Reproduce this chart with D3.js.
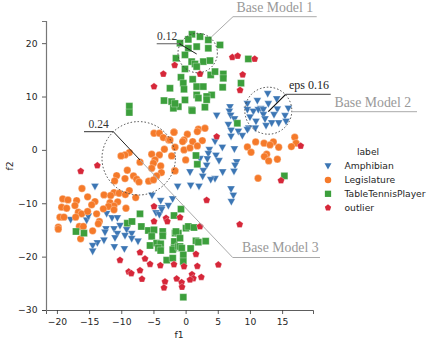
<!DOCTYPE html>
<html>
<head>
<meta charset="utf-8">
<script src="https://cdn.jsdelivr.net/npm/d3@7"></script>
<style>
  html, body { margin: 0; padding: 0; background: #fff; }
  svg { display: block; }
  text { font-family: "DejaVu Sans", sans-serif; fill: #262626; }
  .note { font-family: "Liberation Serif", serif; }
</style>
</head>
<body>
<script>
// values: [f1, f2]
var labels = ["Amphibian", "Legislature", "TableTennisPlayer", "outlier"];
var colors = ["#3c76b4", "#f57a2a", "#3c9f3c", "#d62739"];
var xTicks = [-20, -15, -10, -5, 0, 5, 10, 15];
var yTicks = [-30, -20, -10, 0, 10, 20];

var amphibian = [[12.76,10.49],[11.15,9.18],[14.16,9.49],[9.6,8.6],[12.86,8.6],[6.9,8],[11.67,7.7],[9.6,7.5],[15.97,7.74],
  [6.8,7.18],[7,6.43],[4.83,6.43],[10.53,7.18],[11.3,7.5],[12.09,7.5],[14.26,7.61],[12.09,6.55],[10,6.1],[13.74,6.55],
  [15.45,6.36],[7.6,5.74],[10.94,5.3],[12.34,5.74],[6.64,4.68],[13.38,4.99],[14.47,4.99],[15.61,5.3],[12.5,4.49],[10.84,4.05],
  [9.8,4.05],[9.6,3.74],[7.06,3.62],[8.2,3.43],[7.06,2.49],[8.82,2.62],[4.57,1.56],[5.71,0.43],[3.69,0],[7.58,0.12],[3.53,-0.75],
  [3.38,-1.75],[4.72,-1.06],[5.19,-2.06],[7.94,-2.31],[7.68,-2.94],[3.27,-2.94],[2.24,-1.7],[0.68,-4.19],[2.75,-3.94],[2.65,-5],
  [5.76,-4.19],[7.52,-4.06],[4.57,-5.43],[3.9,-5.62],[-1.24,-6.87],[0.78,-6.68],[2.08,-6.87],[7.06,-7.37],[7.42,-8.55],[7.11,-9.74],
  [-2.02,-9.24],[-14.09,-6.87],[-5.22,-8.55],[-3.87,-9.55],[-2.68,-10.49],[-3.72,-10.93],[-17.87,-13.1],[-15.38,-13.23],[-15.12,-12.48],
  [-12.27,-11.98],[-11.44,-12.79],[-10.61,-12.79],[-4.6,-11.86],[-4.08,-12.17],[-3.72,-11.23],[-10.2,-14.23],[-12.38,-14.85],[-11.13,-14.85],
  [-9.16,-14.98],[-12.53,-15.48],[-10.61,-15.73],[-8.38,-15.73],[-9.42,-16.1],[-10.98,-16.54],[-8.38,-16.66],[-12.69,-16.97],[-7.4,-17.16],
  [-13.72,-17.47],[-14.45,-17.97],[-11.08,-18.22],[-14.45,-19.04],[-9.52,-18.6]];

var legislature = [[-4.91,3.12],[-4.08,3.12],[-3.46,2.31],[-2.63,1.87],[-1.8,3.31],[-3.3,0.12],[-5.27,-0.81],[-4.08,-0.94],[-8.75,-0.5],
  [-9.42,-0.94],[-10.04,-1.13],[-4.76,-1.87],[-5.01,-2.5],[-7.09,-2.31],[-3.87,-3],[-5.27,-3.44],[-9.06,-3.81],[-3.77,-4.25],[-1.7,-3.87],
  [-4.5,-4.87],[-8.1,-4.87],[-10.72,-4.81],[-9.42,-5.37],[-11.03,-5.81],[-7.61,-5.5],[-7.24,-6],[-5.74,-5.87],[-5,-5.62],[-16.11,-7.24],
  [-11.13,-7.99],[-10.35,-8.12],[-8.75,-7.62],[-9.37,-8.37],[-12.69,-8.43],[-11.65,-8.55],[-15.23,-8.8],[-7.76,-8.93],[-19.1,-9.18],
  [-18.29,-9.37],[-16.94,-9.49],[-14.09,-9.68],[-11.75,-9.87],[-10.56,-9.74],[-14.6,-10.3],[-17.2,-10.43],[-19.27,-10.74],[-18.49,-10.93],
  [-11.13,-10.49],[-9.27,-10.93],[-12,-10.6],[-12.79,-11.05],[-11.13,-11.23],[-16.68,-11.67],[-16.16,-11.98],[-15.23,-11.54],[-13.83,-11.98],
  [-17.09,-12.6],[-19.53,-12.6],[-18.91,-12.6],[-13.41,-13.42],[-13.57,-13.85],[-19.79,-14.48],[-19.79,-14.85],[-16.52,-14.35],[-15.9,-14.35],
  [-14.45,-15.17],[-16.32,-16.66],[-1.81,3.3],[0.27,2.93],[1.98,3.87],[1.82,3.43],[3.01,4.05],[-0.25,1.87],[-0.46,1.56],[1.1,1.56],[2.6,1.74],
  [-2.43,1.87],[-1.65,0.5],[-0.25,0],[0.68,0.37],[1.82,0.75],[-2.17,-1.13],[0.01,-1.88],[-1.65,-3.94],[10.89,1.5],[12.19,1.25],[13.64,1.5],
  [13.12,0.93],[9.6,0.56],[10.17,-0.44],[14.47,0.5],[16.96,2.37],[17.17,1.25],[16.44,0.62],[12.6,-0.81],[12.24,-1.25],[12.91,-2.06],
  [14.26,-1.75],[11.26,-5.31]];

var tableTennis = [[0.99,21.66],[2.24,21.22],[3.53,20.6],[0.42,20.7],[-0.87,20],[5.35,19.66],[3.53,19.04],[1.72,19.35],[0.42,19.04],[-0.1,17.8],
  [-1.5,17.17],[0.94,16.54],[1.46,16.1],[2.75,16.54],[3.79,16.73],[-0.1,15.17],[1.72,15.6],[3.9,14.05],[4.57,14.67],[5.86,14.23],[5.86,13.42],
  [-0.72,13.6],[-0.36,12.5],[-0.25,11.36],[1.1,13.23],[1.72,11.86],[1.72,10.3],[2.75,11.86],[4.05,10.3],[3.27,10],[1.98,9.7],[5.76,11.73],
  [8.61,12.5],[9.75,17.04],[-2.43,11.55],[-2.17,9.05],[-0.1,9.36],[-1.13,8.1],[-1.9,7.8],[0.94,7.5],[3,8],[-3.36,9.24],[-8.75,8.2],[-8.75,7],
  [-1.65,8.7],[1.04,7.36],[3.27,9.4],[8.04,4.99],[1.61,-1.06],[1.82,-2.69],[15.35,-4.87],[-17.04,-15.29],[-15.8,-15.6],[-7.09,-11.98],
  [-9.06,-13.73],[-8.33,-13.42],[-6.88,-14.35],[-5.79,-15.1],[-4.91,-14.98],[-3.56,-15.29],[-5.27,-16.2],[-3.56,-16.1],[-5.53,-17.91],
  [-4.5,-17.47],[-3.88,-17.6],[-4.24,-18.4],[-3.88,-18.85],[-1.8,-12.3],[-1.64,-15.6],[-1.13,-15.6],[-1.75,-17.16],[-1.8,-18.4],[-2,-18.7],
  [-1.13,-18.1],[-2.94,-20.66],[-2,-20.28],[-0.72,-11.1],[0.06,-14.67],[0.42,-14.35],[1.3,-14.54],[-1.5,-15.3],[-0.87,-16.54],[-0.87,-18.1],
  [-0.6,-18.4],[-0.36,-19.66],[0.78,-18.47],[1.61,-17.04],[1.98,-17.29],[3.12,-17.1],[-0.36,-20.9],[-0.36,-27.6]];

var outlier = [[-1.7,15.86],[-3.46,14.23],[-4.91,11.86],[2.24,14.23],[7.26,17.35],[8.09,17.6],[10.74,17.04],[8.87,14.1],[8.46,11.17],
  [-16.3,-4],[-13.72,-2.94],[-4.91,-10.6],[4.83,2.49],[17.89,0.75],[14.83,-5.75],[3.27,-9.43],[-0.87,-12.67],[2.24,-14.35],[8.4,-13.98],
  [1.61,-19.53],[-1.81,-21.47],[-0.25,-21.84],[1.82,-21.78],[5.09,-21.53],[-1.39,-24.15],[-0.62,-24.84],[-0.56,-25.7],[0.99,-23.34],
  [1.2,-24.09],[0.68,-24.34],[2.44,-23.84],[-3.04,-12.8],[-2.84,-13.42],[-4.91,-13.42],[-7.09,-19.22],[-6.31,-20.41],[-5.53,-21.41],
  [-3.93,-21.66],[-10.2,-20.66],[-8.85,-22.84],[-8.44,-23.15],[-7.09,-22.59],[-6.78,-24.2],[-3.2,-24.7],[-3.36,-25.84]];

var series = [amphibian, legislature, tableTennis, outlier];

var width = 436, height = 346;
var x = d3.scaleLinear().domain([-21.7, 19.8]).range([46, 313]);
var y = d3.scaleLinear().domain([-30, 24.15]).range([310, 21]);

// marker shapes, same order as labels
var triangleDown = { draw: function(ctx, size) {
  var r = Math.sqrt(size) * 0.62;
  ctx.moveTo(-r, -r * 0.8); ctx.lineTo(r, -r * 0.8); ctx.lineTo(0, r); ctx.closePath();
}};
var pentagon = { draw: function(ctx, size) {
  var r = Math.sqrt(size) * 0.62;
  for (var i = 0; i < 5; i++) {
    var a = -Math.PI / 2 + i * 2 * Math.PI / 5;
    if (i == 0) ctx.moveTo(r * Math.cos(a), r * Math.sin(a));
    else ctx.lineTo(r * Math.cos(a), r * Math.sin(a));
  }
  ctx.closePath();
}};
var shapes = [triangleDown, d3.symbolCircle, d3.symbolSquare, pentagon];
var sizes = [40, 42, 49, 36];

var svg = d3.select("body").append("svg").attr("width", width).attr("height", height);

var xAxis = svg.append("g").attr("transform", "translate(0,310)")
    .call(d3.axisBottom(x).tickValues(xTicks).tickSizeOuter(0).tickSize(4).tickPadding(4).tickFormat(d => String(d).replace("-", "\u2212")));
var yAxis = svg.append("g").attr("transform", "translate(46,0)")
    .call(d3.axisLeft(y).tickValues(yTicks).tickSizeOuter(0).tickSize(4).tickPadding(4.5).tickFormat(d => String(d).replace("-", "\u2212")));
svg.selectAll(".tick text").style("font-size", "9.2px").style("font-family", '"DejaVu Sans"').attr("fill", "#262626");
svg.selectAll(".domain, .tick line").attr("stroke", "#333").attr("stroke-width", 0.8);
yAxis.select(".domain").attr("stroke", "#777").attr("stroke-width", 1.2);

svg.append("text").attr("x", 179).attr("y", 337.5).attr("text-anchor", "middle").style("font-size", "9.2px").text("f1");
svg.append("text").attr("transform", "translate(13,166) rotate(-90)").attr("text-anchor", "middle").style("font-size", "9.2px").text("f2");

series.forEach(function(points, k) {
  svg.append("g").selectAll("path").data(points).enter().append("path")
      .attr("transform", d => "translate(" + x(d[0]) + "," + y(d[1]) + ")")
      .attr("d", d3.symbol().type(shapes[k]).size(sizes[k]))
      .attr("fill", colors[k])
      .attr("stroke", "#fff")
      .attr("stroke-width", 0.3);
});

// legend
svg.append("text").attr("x", 368).attr("y", 155).attr("text-anchor", "middle").style("font-size", "9.2px").text("label");
labels.forEach(function(name, k) {
  var ly = 166 + k * 13.9;
  svg.append("path").attr("transform", "translate(328," + ly + ")")
      .attr("d", d3.symbol().type(shapes[k]).size(sizes[k] * 0.8))
      .attr("fill", colors[k]);
  svg.append("text").attr("x", 344.5).attr("y", ly + 3.2).style("font-size", "9.2px").text(name);
});

// pasted annotations, page pixels
function note(pts, color, w) {
  svg.append("path").attr("d", d3.line()(pts)).attr("fill", "none").attr("stroke", color).attr("stroke-width", w);
}
function ring(cx, cy, r) {
  svg.append("circle").attr("cx", cx).attr("cy", cy).attr("r", r).attr("fill", "none")
      .attr("stroke", "#444").attr("stroke-width", 1).attr("stroke-dasharray", "1.5,2");
}
function words(tx, ty, s, size, color) {
  svg.append("text").attr("class", "note").attr("x", tx).attr("y", ty).style("font-size", size + "px").style("fill", color).text(s);
}

ring(197.7, 53, 19.7);
ring(268.3, 110.7, 23.5);
ring(138.7, 158.3, 36.7);

note([[156.7, 43.7], [179.3, 43.7]], "#777", 1.2);
note([[179.3, 43.7], [196.7, 54]], "#222", 1);
words(157, 40, "0.12", 11.5, "#333");
note([[211.7, 36.7], [233, 16.7], [316.7, 16.7]], "#aaa", 1);
words(236.5, 12, "Base Model 1", 13.8, "#999");

note([[268.3, 111.7], [285.7, 94.3]], "#111", 1.2);
note([[285.7, 94.3], [330.7, 94.3]], "#666", 1.2);
words(289, 89, "eps 0.16", 12, "#222");
note([[291.7, 111.7], [417, 111.7]], "#aaa", 1);
words(334.5, 107, "Base Model 2", 13.8, "#999");

note([[84, 131.7], [113.3, 131.7]], "#333", 1);
note([[140, 160], [232.7, 257.5], [320, 257.5]], "#aaa", 1);
note([[113.3, 131.7], [140, 160]], "#222", 1);
words(88.5, 128, "0.24", 11.5, "#333");
words(242, 251.5, "Base Model 3", 13.8, "#999");
</script>
</body>
</html>
